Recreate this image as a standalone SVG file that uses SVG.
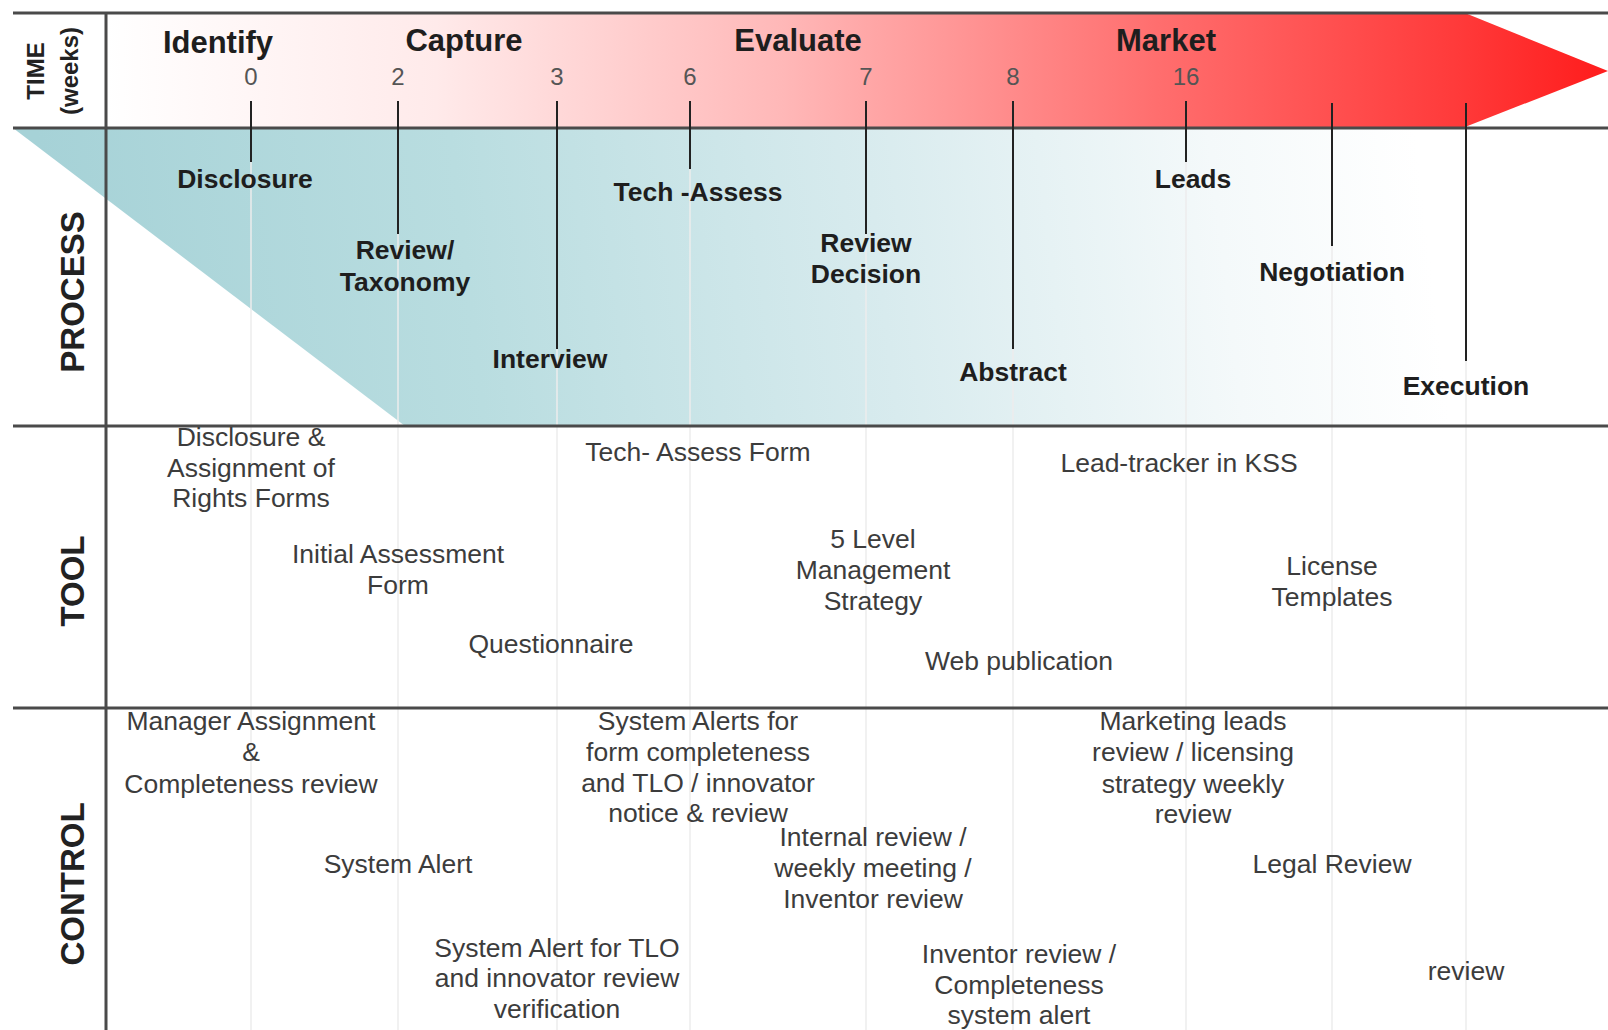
<svg xmlns="http://www.w3.org/2000/svg" width="1608" height="1030" viewBox="0 0 1608 1030">
  <defs>
    <linearGradient id="arrowFill" gradientUnits="userSpaceOnUse" x1="106" y1="0" x2="1608" y2="0">
      <stop offset="0" stop-color="#ffffff"/>
      <stop offset="0.22" stop-color="#ffeaea"/>
      <stop offset="0.45" stop-color="#ffb8b8"/>
      <stop offset="0.7" stop-color="#ff6e6e"/>
      <stop offset="0.9" stop-color="#ff3a3a"/>
      <stop offset="1" stop-color="#ff1c1c"/>
    </linearGradient>
    <linearGradient id="tealFill" gradientUnits="userSpaceOnUse" x1="60" y1="330" x2="1420" y2="170">
      <stop offset="0" stop-color="#a6d2d7"/>
      <stop offset="0.3" stop-color="#b9dde0"/>
      <stop offset="0.6" stop-color="#d8ebee"/>
      <stop offset="0.85" stop-color="#f4f9fa"/>
      <stop offset="1" stop-color="#ffffff"/>
    </linearGradient>
    <style>
      .lane { stroke: #4a4a4a; stroke-width: 3; fill: none; }
      .grid { stroke: #ececec; stroke-width: 1.5; fill: none; }
      .tick { stroke: #222; stroke-width: 2; fill: none; }
      .head { font-family: "Liberation Sans", Arial, sans-serif; font-weight: bold; fill: #222; text-anchor: middle; }
      .phase { font-family: "Liberation Sans", Arial, sans-serif; font-weight: bold; font-size: 31px; fill: #1e1e1e; text-anchor: middle; }
      .num { font-family: "Liberation Sans", Arial, sans-serif; font-size: 24px; fill: #555; text-anchor: middle; }
      .step { font-family: "Liberation Sans", Arial, sans-serif; font-weight: bold; font-size: 26.5px; fill: #1e1e1e; text-anchor: middle; }
      .note { font-family: "Liberation Sans", Arial, sans-serif; font-size: 26.5px; fill: #3c3c3c; text-anchor: middle; }
    </style>
  </defs>

  <rect width="1608" height="1030" fill="#ffffff"/>

  <!-- process band shading -->
  <polygon points="13,128 1608,128 1608,426 405,426" fill="url(#tealFill)"/>

  <!-- faint week gridlines -->
  <g id="gridlines">
    <line class="grid" x1="251" y1="128" x2="251" y2="1030"/>
    <line class="grid" x1="398" y1="128" x2="398" y2="1030"/>
    <line class="grid" x1="557" y1="128" x2="557" y2="1030"/>
    <line class="grid" x1="690" y1="128" x2="690" y2="1030"/>
    <line class="grid" x1="866" y1="128" x2="866" y2="1030"/>
    <line class="grid" x1="1013" y1="128" x2="1013" y2="1030"/>
    <line class="grid" x1="1186" y1="128" x2="1186" y2="1030"/>
    <line class="grid" x1="1332" y1="128" x2="1332" y2="1030"/>
    <line class="grid" x1="1466" y1="128" x2="1466" y2="1030"/>
  </g>

  <!-- timeline arrow -->
  <polygon id="timeline-arrow" points="106,13 1465,13 1608,71 1465,127 106,127" fill="url(#arrowFill)"/>

  <!-- swim-lane rules -->
  <g id="lanes">
    <line class="lane" x1="13" y1="13" x2="1608" y2="13"/>
    <line class="lane" x1="13" y1="128" x2="1608" y2="128"/>
    <line class="lane" x1="13" y1="426" x2="1608" y2="426"/>
    <line class="lane" x1="13" y1="708" x2="1608" y2="708"/>
    <line class="lane" x1="106" y1="13" x2="106" y2="1030"/>
  </g>

  <!-- lane headings -->
  <g id="lane-time">
    <text class="head" font-size="24" transform="translate(44,71) rotate(-90)">TIME</text>
    <text class="head" font-size="24" transform="translate(78,71) rotate(-90)">(weeks)</text>
  </g>
  <g id="lane-process"><text class="head" font-size="33" transform="translate(84,292) rotate(-90)">PROCESS</text></g>
  <g id="lane-tool"><text class="head" font-size="33" transform="translate(84,581) rotate(-90)">TOOL</text></g>
  <g id="lane-control"><text class="head" font-size="33" transform="translate(84,884) rotate(-90)">CONTROL</text></g>

  <!-- phases and week marks -->
  <g id="phases">
    <text class="phase" x="218" y="53">Identify</text>
    <text class="phase" x="464" y="51">Capture</text>
    <text class="phase" x="798" y="51">Evaluate</text>
    <text class="phase" x="1166" y="51">Market</text>
  </g>
  <g id="weeks">
    <text class="num" x="251" y="85">0</text>
    <text class="num" x="398" y="85">2</text>
    <text class="num" x="557" y="85">3</text>
    <text class="num" x="690" y="85">6</text>
    <text class="num" x="866" y="85">7</text>
    <text class="num" x="1013" y="85">8</text>
    <text class="num" x="1186" y="85">16</text>
  </g>

  <!-- connectors from week marks to process steps -->
  <g id="connectors">
    <line class="tick" x1="251" y1="101" x2="251" y2="162"/>
    <line class="tick" x1="398" y1="101" x2="398" y2="234"/>
    <line class="tick" x1="557" y1="101" x2="557" y2="349"/>
    <line class="tick" x1="690" y1="101" x2="690" y2="169"/>
    <line class="tick" x1="866" y1="101" x2="866" y2="234"/>
    <line class="tick" x1="1013" y1="101" x2="1013" y2="349"/>
    <line class="tick" x1="1186" y1="101" x2="1186" y2="162"/>
    <line class="tick" x1="1332" y1="103" x2="1332" y2="246"/>
    <line class="tick" x1="1466" y1="103" x2="1466" y2="361"/>
  </g>

  <!-- process steps -->
  <g id="step-disclosure"><text class="step" x="245" y="188">Disclosure</text></g>
  <g id="step-review-taxonomy"><text class="step" x="405" y="259">Review/</text><text class="step" x="405" y="291">Taxonomy</text></g>
  <g id="step-interview"><text class="step" x="550" y="368">Interview</text></g>
  <g id="step-tech-assess"><text class="step" x="698" y="201">Tech -Assess</text></g>
  <g id="step-review-decision"><text class="step" x="866" y="252">Review</text><text class="step" x="866" y="283">Decision</text></g>
  <g id="step-abstract"><text class="step" x="1013" y="381">Abstract</text></g>
  <g id="step-leads"><text class="step" x="1193" y="188">Leads</text></g>
  <g id="step-negotiation"><text class="step" x="1332" y="281">Negotiation</text></g>
  <g id="step-execution"><text class="step" x="1466" y="395">Execution</text></g>

  <!-- tools -->
  <g id="tool-disclosure-forms">
    <text class="note" x="251" y="446">Disclosure &amp;</text>
    <text class="note" x="251" y="477">Assignment of</text>
    <text class="note" x="251" y="507">Rights Forms</text>
  </g>
  <g id="tool-initial-assessment">
    <text class="note" x="398" y="563">Initial Assessment</text>
    <text class="note" x="398" y="594">Form</text>
  </g>
  <g id="tool-questionnaire"><text class="note" x="551" y="653">Questionnaire</text></g>
  <g id="tool-tech-assess-form"><text class="note" x="698" y="461">Tech- Assess Form</text></g>
  <g id="tool-management-strategy">
    <text class="note" x="873" y="548">5 Level</text>
    <text class="note" x="873" y="579">Management</text>
    <text class="note" x="873" y="610">Strategy</text>
  </g>
  <g id="tool-web-publication"><text class="note" x="1019" y="670">Web publication</text></g>
  <g id="tool-lead-tracker"><text class="note" x="1179" y="472">Lead-tracker in KSS</text></g>
  <g id="tool-license-templates">
    <text class="note" x="1332" y="575">License</text>
    <text class="note" x="1332" y="606">Templates</text>
  </g>

  <!-- controls -->
  <g id="control-manager-assignment">
    <text class="note" x="251" y="730">Manager Assignment</text>
    <text class="note" x="251" y="761">&amp;</text>
    <text class="note" x="251" y="793">Completeness review</text>
  </g>
  <g id="control-system-alert"><text class="note" x="398" y="873">System Alert</text></g>
  <g id="control-tlo-alert">
    <text class="note" x="557" y="957">System Alert for TLO</text>
    <text class="note" x="557" y="987">and innovator review</text>
    <text class="note" x="557" y="1018">verification</text>
  </g>
  <g id="control-system-alerts">
    <text class="note" x="698" y="730">System Alerts for</text>
    <text class="note" x="698" y="761">form completeness</text>
    <text class="note" x="698" y="792">and TLO / innovator</text>
    <text class="note" x="698" y="822">notice &amp; review</text>
  </g>
  <g id="control-internal-review">
    <text class="note" x="873" y="846">Internal review /</text>
    <text class="note" x="873" y="877">weekly meeting /</text>
    <text class="note" x="873" y="908">Inventor review</text>
  </g>
  <g id="control-inventor-review">
    <text class="note" x="1019" y="963">Inventor review /</text>
    <text class="note" x="1019" y="994">Completeness</text>
    <text class="note" x="1019" y="1024">system alert</text>
  </g>
  <g id="control-marketing-leads">
    <text class="note" x="1193" y="730">Marketing leads</text>
    <text class="note" x="1193" y="761">review / licensing</text>
    <text class="note" x="1193" y="793">strategy weekly</text>
    <text class="note" x="1193" y="823">review</text>
  </g>
  <g id="control-legal-review"><text class="note" x="1332" y="873">Legal Review</text></g>
  <g id="control-review"><text class="note" x="1466" y="980">review</text></g>
</svg>
